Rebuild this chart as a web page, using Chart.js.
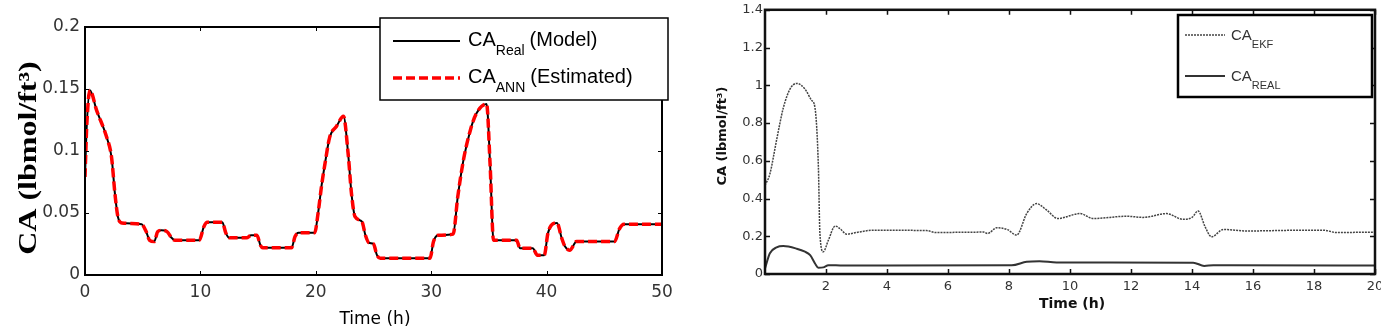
<!DOCTYPE html>
<html>
<head>
<meta charset="utf-8">
<script src="https://cdn.jsdelivr.net/npm/chart.js@4"></script>
<style>
  html, body { margin: 0; padding: 0; background: #fff; overflow: hidden; }
  .panel { position: absolute; top: 0; height: 332px; }
  #panelA { left: 0; width: 690px; }
  #panelB { left: 700px; width: 690px; }
</style>
</head>
<body>
<div class="panel" id="panelA"><canvas id="chartA"></canvas></div>
<div class="panel" id="panelB"><canvas id="chartB"></canvas></div>
<script>
// left panel: real model vs ANN estimate
const timeA = [0, 0.15, 0.43, 1.0, 1.88, 2.3, 2.6, 2.85, 3.2, 4.9, 5.3, 5.6, 6.0, 6.3, 6.6, 7.1, 7.5, 7.8, 9.9,
  10.3, 10.6, 11.9, 12.2, 12.5, 14.0, 14.4, 14.9, 15.2, 15.4, 17.9, 18.2, 18.5, 19.9, 20.2, 20.5, 20.8, 21.2,
  21.8, 22.4, 22.8, 23.1, 23.4, 24.0, 24.3, 24.6, 25.0, 25.3, 25.6, 29.9, 30.2, 30.6, 31.9, 32.3, 32.8, 33.4,
  33.9, 34.8, 35.1, 35.4, 37.4, 37.7, 38.8, 39.2, 39.8, 40.1, 40.4, 40.9, 41.3, 41.6, 42.0, 42.6, 45.9, 46.3,
  46.7, 50];
const caRealA = [0.079, 0.12, 0.149, 0.133, 0.111, 0.095, 0.065, 0.047, 0.042, 0.041, 0.035, 0.028, 0.027, 0.035,
  0.036, 0.035, 0.030, 0.028, 0.028, 0.039, 0.0425, 0.0425, 0.034, 0.030, 0.030, 0.032, 0.032, 0.024, 0.022,
  0.022, 0.031, 0.034, 0.034, 0.05, 0.072, 0.090, 0.111, 0.120, 0.128, 0.098, 0.065, 0.047, 0.043, 0.032, 0.026,
  0.025, 0.016, 0.0135, 0.0135, 0.027, 0.032, 0.033, 0.063, 0.093, 0.117, 0.130, 0.138, 0.09, 0.028, 0.028,
  0.0215, 0.0215, 0.016, 0.016, 0.033, 0.040, 0.042, 0.03, 0.023, 0.020, 0.027, 0.027, 0.037, 0.041, 0.041];
const caAnnA = [0.079, 0.12, 0.149, 0.133, 0.111, 0.095, 0.065, 0.047, 0.042, 0.041, 0.035, 0.028, 0.027, 0.035,
  0.036, 0.035, 0.030, 0.028, 0.028, 0.039, 0.0425, 0.0425, 0.034, 0.030, 0.030, 0.032, 0.032, 0.024, 0.022,
  0.022, 0.031, 0.034, 0.034, 0.05, 0.072, 0.090, 0.111, 0.120, 0.128, 0.098, 0.065, 0.047, 0.043, 0.032, 0.026,
  0.025, 0.016, 0.0135, 0.0135, 0.027, 0.032, 0.033, 0.063, 0.093, 0.117, 0.130, 0.138, 0.09, 0.028, 0.028,
  0.0215, 0.0215, 0.016, 0.016, 0.033, 0.040, 0.042, 0.03, 0.023, 0.020, 0.027, 0.027, 0.037, 0.041, 0.041];

// right panel: EKF estimate vs real
const timeEkf = [0, 0.16, 0.38, 0.6, 0.82, 1.04, 1.31, 1.53, 1.64, 1.75, 1.8, 1.91, 2.08, 2.3, 2.46, 2.68, 3.0,
  3.55, 5.3, 5.6, 7.16, 7.3, 7.6, 7.95, 8.25, 8.58, 8.9, 9.24, 9.6, 10.33, 10.76, 11.86, 12.4, 13.17, 13.7,
  14.0, 14.2, 14.43, 14.64, 15.03, 15.8, 17.65, 18.3, 18.74, 20];
const caEkf = [0.47, 0.53, 0.71, 0.88, 0.98, 1.01, 0.98, 0.92, 0.88, 0.57, 0.215, 0.118, 0.18, 0.254, 0.24, 0.211,
  0.22, 0.232, 0.23, 0.22, 0.222, 0.215, 0.245, 0.235, 0.206, 0.32, 0.373, 0.338, 0.294, 0.32, 0.294, 0.306,
  0.30, 0.32, 0.29, 0.30, 0.334, 0.25, 0.197, 0.236, 0.228, 0.232, 0.232, 0.22, 0.222];
const timeReal = [0, 0.16, 0.38, 0.6, 1.04, 1.31, 1.48, 1.64, 1.75, 1.91, 2.08, 2.57, 8.09, 8.58, 9.0, 9.56,
  14.04, 14.4, 14.7, 20];
const caReal = [0.03, 0.11, 0.141, 0.148, 0.134, 0.118, 0.10, 0.056, 0.033, 0.035, 0.047, 0.045, 0.046, 0.065,
  0.068, 0.061, 0.06, 0.043, 0.046, 0.045];

const xTicksA = [0, 10, 20, 30, 40, 50];
const yTicksA = [0, 0.05, 0.1, 0.15, 0.2];
const xTicksB = [2, 4, 6, 8, 10, 12, 14, 16, 18, 20];
const yTicksB = [0, 0.2, 0.4, 0.6, 0.8, 1, 1.2, 1.4];

const pts = (xs, ys) => xs.map((x, i) => ({ x, y: ys[i] }));
const fmt = v => String(+v.toFixed(2));

// frame with inward ticks, axis titles and a legend that supports subscripts
const framePlugin = {
  id: 'frame',
  afterDatasetsDraw(chart, args, o) {
    const { ctx, chartArea: a } = chart;
    const sx = chart.scales.x, sy = chart.scales.y;
    ctx.save();
    ctx.strokeStyle = o.color;
    ctx.lineWidth = o.tickWidth;
    ctx.beginPath();
    sx.ticks.forEach(t => {
      const px = Math.round(sx.getPixelForValue(t.value)) + 0.5;
      ctx.moveTo(px, a.bottom); ctx.lineTo(px, a.bottom - o.tick);
      ctx.moveTo(px, a.top); ctx.lineTo(px, a.top + o.tick);
    });
    sy.ticks.forEach(t => {
      const py = Math.round(sy.getPixelForValue(t.value)) + 0.5;
      ctx.moveTo(a.left, py); ctx.lineTo(a.left + o.tick, py);
      ctx.moveTo(a.right, py); ctx.lineTo(a.right - o.tick, py);
    });
    ctx.stroke();
    ctx.lineWidth = o.width;
    ctx.strokeRect(a.left, a.top, a.right - a.left, a.bottom - a.top);
    ctx.restore();
  },
  afterDraw(chart, args, o) {
    const ctx = chart.ctx;
    ctx.save();
    ctx.fillStyle = o.titleColor;
    ctx.textAlign = 'center';
    ctx.textBaseline = 'middle';
    ctx.font = o.xTitle.font;
    ctx.fillText(o.xTitle.text, o.xTitle.x, o.xTitle.y);
    ctx.translate(o.yTitle.x, o.yTitle.y);
    ctx.rotate(-Math.PI / 2);
    ctx.scale(o.yTitle.stretch || 1, 1);
    ctx.font = o.yTitle.font;
    ctx.fillText(o.yTitle.text, 0, 0);
    ctx.restore();

    const L = o.legend;
    ctx.save();
    ctx.fillStyle = '#fff';
    ctx.fillRect(L.x, L.y, L.w, L.h);
    ctx.strokeStyle = '#000';
    ctx.lineWidth = L.border;
    ctx.strokeRect(L.x, L.y, L.w, L.h);
    ctx.textAlign = 'left';
    ctx.textBaseline = 'alphabetic';
    L.rows.forEach((r, i) => {
      const ds = chart.data.datasets[r.dataset];
      const ly = L.rowY[i];
      ctx.strokeStyle = ds.borderColor;
      ctx.lineWidth = ds.borderWidth;
      ctx.setLineDash(ds.borderDash || []);
      ctx.beginPath();
      ctx.moveTo(L.lineX0, ly);
      ctx.lineTo(L.lineX1, ly);
      ctx.stroke();
      ctx.setLineDash([]);
      ctx.fillStyle = L.color;
      let tx = L.textX;
      const base = ly + L.baseOff;
      ctx.font = L.font;
      ctx.fillText(r.main, tx, base);
      tx += ctx.measureText(r.main).width;
      ctx.font = L.subFont;
      ctx.fillText(r.sub, tx, base + L.subOff);
      tx += ctx.measureText(r.sub).width;
      if (r.suffix) {
        ctx.font = L.font;
        ctx.fillText(r.suffix, tx + L.gap, base);
      }
    });
    ctx.restore();
  }
};

function axis(ticks, opts) {
  return Object.assign({
    type: 'linear',
    grid: { display: false, drawTicks: false },
    border: { display: false },
    afterBuildTicks: s => { s.ticks = ticks.map(v => ({ value: v })); }
  }, opts);
}

new Chart(document.getElementById('chartA'), {
  type: 'line',
  data: {
    datasets: [
      { label: 'CA Real (Model)', data: pts(timeA, caRealA), borderColor: '#000', borderWidth: 2, order: 1 },
      { label: 'CA ANN (Estimated)', data: pts(timeA, caAnnA), borderColor: '#ff0000', borderWidth: 3.5, borderDash: [9, 4], order: 0 }
    ]
  },
  options: {
    responsive: true,
    maintainAspectRatio: false,
    animation: false,
    elements: { point: { radius: 0 }, line: { cubicInterpolationMode: 'monotone' } },
    layout: { padding: { top: 27, right: 28, left: 0, bottom: 0 } },
    scales: {
      x: axis(xTicksA, {
        min: 0, max: 50,
        ticks: { padding: 7, color: '#333', font: { family: 'DejaVu Sans', size: 17 }, maxRotation: 0, autoSkip: false },
        afterFit: s => { s.height = 57; }
      }),
      y: axis(yTicksA, {
        min: 0, max: 0.2,
        ticks: { padding: 5, color: '#333', font: { family: 'DejaVu Sans', size: 17 }, callback: fmt },
        afterFit: s => { s.width = 85; }
      })
    },
    plugins: {
      legend: { display: false },
      tooltip: { enabled: false },
      frame: {
        color: '#000', width: 2, tickWidth: 1, tick: 4, titleColor: '#000',
        xTitle: { text: 'Time (h)', x: 375, y: 320, font: '17px DejaVu Sans' },
        yTitle: { text: 'CA (lbmol/ft³)', x: 30, y: 158, stretch: 1.28, font: 'bold 25px Liberation Serif, Times New Roman' },
        legend: {
          x: 380, y: 18, w: 288, h: 82, border: 1.5, color: '#000',
          lineX0: 393, lineX1: 460, rowY: [41, 78], textX: 468, baseOff: 5, subOff: 9, gap: 5,
          font: '20px Liberation Sans, Arial', subFont: '14px Liberation Sans, Arial',
          rows: [
            { dataset: 0, main: 'CA', sub: 'Real', suffix: '(Model)' },
            { dataset: 1, main: 'CA', sub: 'ANN', suffix: '(Estimated)' }
          ]
        }
      }
    }
  },
  plugins: [framePlugin]
});

new Chart(document.getElementById('chartB'), {
  type: 'line',
  data: {
    datasets: [
      { label: 'CA EKF', data: pts(timeEkf, caEkf), borderColor: '#444', borderWidth: 1.5, borderDash: [2, 1] },
      { label: 'CA REAL', data: pts(timeReal, caReal), borderColor: '#333', borderWidth: 2 }
    ]
  },
  options: {
    responsive: true,
    maintainAspectRatio: false,
    animation: false,
    elements: { point: { radius: 0 }, line: { cubicInterpolationMode: 'monotone' } },
    layout: { padding: { top: 9, right: 15, left: 0, bottom: 0 } },
    scales: {
      x: axis(xTicksB, {
        min: 0, max: 20,
        ticks: { padding: 5, color: '#333', font: { family: 'DejaVu Sans', size: 13 }, maxRotation: 0, autoSkip: false },
        afterFit: s => { s.height = 58; }
      }),
      y: axis(yTicksB, {
        min: 0, max: 1.4,
        ticks: { padding: 2, color: '#333', font: { family: 'DejaVu Sans', size: 13 }, callback: fmt },
        afterFit: s => { s.width = 65; }
      })
    },
    plugins: {
      legend: { display: false },
      tooltip: { enabled: false },
      frame: {
        color: '#111', width: 2.5, tickWidth: 1.5, tick: 5, titleColor: '#111',
        xTitle: { text: 'Time (h)', x: 372, y: 304, font: 'bold 14px DejaVu Sans' },
        yTitle: { text: 'CA (lbmol/ft³)', x: 23, y: 136, font: 'bold 13px DejaVu Sans' },
        legend: {
          x: 478, y: 15, w: 194, h: 82, border: 2.5, color: '#333',
          lineX0: 485, lineX1: 525, rowY: [35, 76], textX: 531, baseOff: 5, subOff: 8, gap: 4,
          font: '15px Liberation Sans, Arial', subFont: '11px Liberation Sans, Arial',
          rows: [
            { dataset: 0, main: 'CA', sub: 'EKF' },
            { dataset: 1, main: 'CA', sub: 'REAL' }
          ]
        }
      }
    }
  },
  plugins: [framePlugin]
});
</script>
</body>
</html>
